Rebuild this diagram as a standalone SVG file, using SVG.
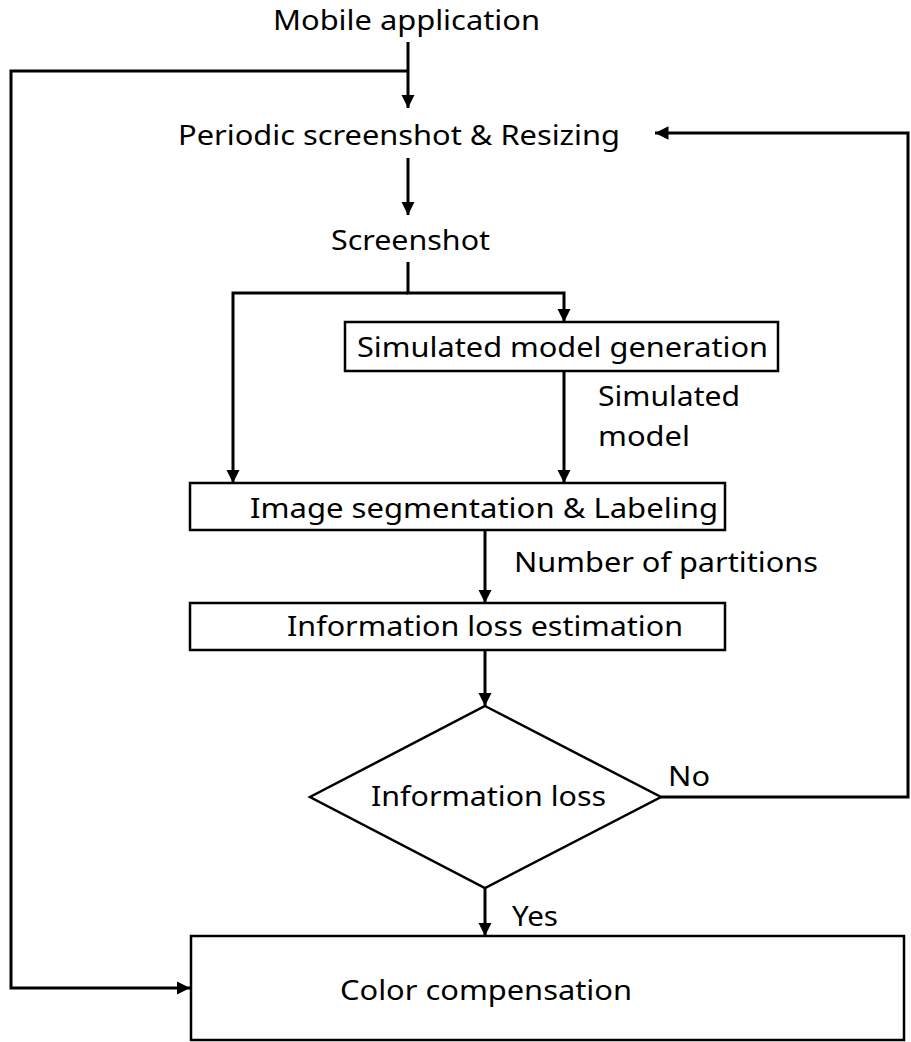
<svg xmlns="http://www.w3.org/2000/svg" width="911" height="1042" viewBox="0 0 911 1042">
  <style>
    .lbl { font-family: "Noto Sans", "Open Sans", "DejaVu Sans", sans-serif; font-size: 27px; fill: #000; }
    .box { fill: #fff; stroke: #000; stroke-width: 2.5; }
    .wire { fill: none; stroke: #000; stroke-width: 3; }
  </style>
  <defs>
    <marker id="arrow" viewBox="0 0 10 10" refX="10" refY="5" markerWidth="4.5" markerHeight="4.5" orient="auto" markerUnits="strokeWidth">
      <path d="M0,0 L10,5 L0,10 z" fill="#000"/>
    </marker>
  </defs>

  <rect width="911" height="1042" fill="#fff"/>

  <!-- connectors -->
  <g id="connectors">
    <path class="wire" d="M408,42 V108" marker-end="url(#arrow)"/>
    <path class="wire" d="M408,71 H11 V988 H190" marker-end="url(#arrow)"/>
    <path class="wire" d="M408,158 V215" marker-end="url(#arrow)"/>
    <path class="wire" d="M408,262 V293 H564 V322" marker-end="url(#arrow)"/>
    <path class="wire" d="M408,293 H233 V483" marker-end="url(#arrow)"/>
    <path class="wire" d="M564,371 V483" marker-end="url(#arrow)"/>
    <path class="wire" d="M485,530 V603" marker-end="url(#arrow)"/>
    <path class="wire" d="M485,650 V706" marker-end="url(#arrow)"/>
    <path class="wire" d="M485,888 V936" marker-end="url(#arrow)"/>
    <path class="wire" d="M661,797 H908 V133 H655" marker-end="url(#arrow)"/>
  </g>

  <g id="mobile-app">
    <text class="lbl" x="273" y="30" textLength="267" lengthAdjust="spacingAndGlyphs">Mobile application</text>
  </g>

  <g id="screenshot-resize">
    <text class="lbl" x="178" y="145" textLength="442" lengthAdjust="spacingAndGlyphs">Periodic screenshot &amp; Resizing</text>
  </g>

  <g id="screenshot">
    <text class="lbl" x="331" y="250" textLength="159" lengthAdjust="spacingAndGlyphs">Screenshot</text>
  </g>

  <g id="sim-model-gen">
    <rect class="box" x="345" y="322" width="433" height="49"/>
    <text class="lbl" x="357" y="357" textLength="411" lengthAdjust="spacingAndGlyphs">Simulated model generation</text>
  </g>

  <g id="sim-model-label">
    <text class="lbl" x="598" y="406" textLength="142" lengthAdjust="spacingAndGlyphs">Simulated</text>
    <text class="lbl" x="598" y="446" textLength="92" lengthAdjust="spacingAndGlyphs">model</text>
  </g>

  <g id="segmentation">
    <rect class="box" x="190" y="483" width="535" height="47"/>
    <text class="lbl" x="250" y="518" textLength="468" lengthAdjust="spacingAndGlyphs">Image segmentation &amp; Labeling</text>
  </g>

  <g id="partitions-label">
    <text class="lbl" x="514" y="572" textLength="304" lengthAdjust="spacingAndGlyphs">Number of partitions</text>
  </g>

  <g id="loss-estimation">
    <rect class="box" x="190" y="603" width="535" height="47"/>
    <text class="lbl" x="287" y="636" textLength="396" lengthAdjust="spacingAndGlyphs">Information loss estimation</text>
  </g>

  <g id="loss-decision">
    <polygon class="box" points="485,706 661,797 485,888 310,797"/>
    <text class="lbl" x="371" y="806" textLength="235" lengthAdjust="spacingAndGlyphs">Information loss</text>
  </g>

  <g id="branch-labels">
    <text class="lbl" x="668" y="786" textLength="42" lengthAdjust="spacingAndGlyphs">No</text>
    <text class="lbl" x="512" y="926" textLength="46" lengthAdjust="spacingAndGlyphs">Yes</text>
  </g>

  <g id="color-compensation">
    <rect class="box" x="191" y="936" width="713" height="104"/>
    <text class="lbl" x="340" y="1000" textLength="292" lengthAdjust="spacingAndGlyphs">Color compensation</text>
  </g>
</svg>
